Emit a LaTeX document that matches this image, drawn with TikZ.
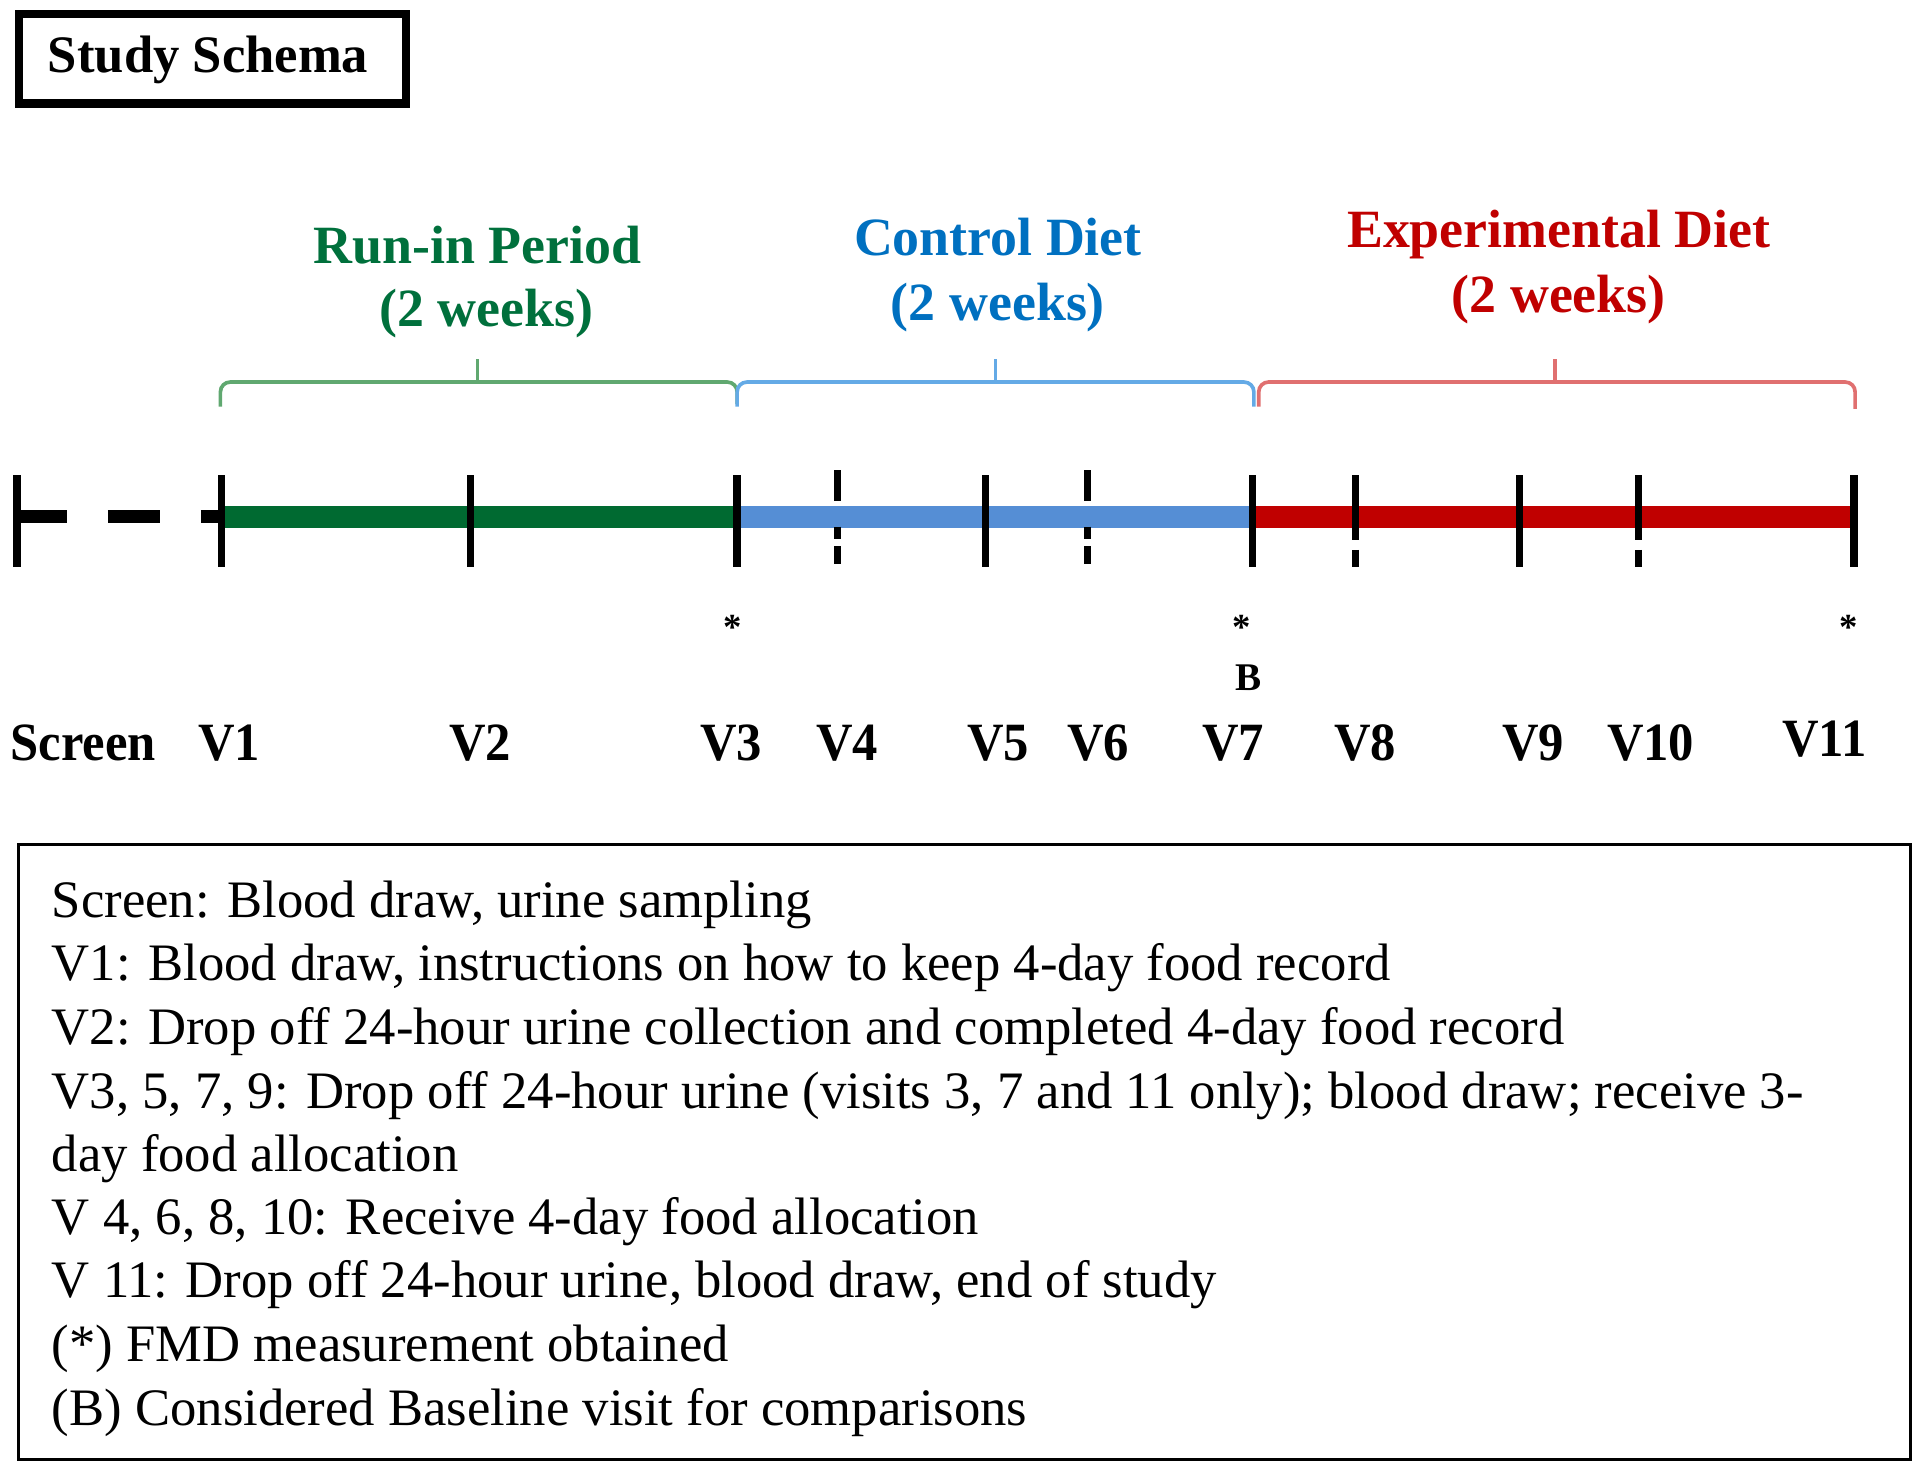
\documentclass[tikz,border=0pt]{standalone}
\usepackage{fontspec}
\setmainfont{Liberation Serif}
\newfontfamily\visitfont{Liberation Serif}[FakeStretch=0.94]
\definecolor{gtext}{RGB}{0,112,60}
\definecolor{btext}{RGB}{0,112,192}
\definecolor{rtext}{RGB}{192,0,0}
\definecolor{gbar}{RGB}{0,106,49}
\definecolor{bbar}{RGB}{85,142,213}
\definecolor{rbar}{RGB}{192,0,0}
\definecolor{gbrace}{RGB}{96,168,112}
\definecolor{bbrace}{RGB}{100,170,230}
\definecolor{rbrace}{RGB}{224,112,112}
\tikzset{
  period/.style={font=\fontsize{22}{26}\selectfont\bfseries, anchor=base, inner sep=0pt},
  visit/.style={font=\fontsize{22}{26}\selectfont\visitfont\bfseries, anchor=base, inner sep=0pt},
  legendline/.style={font=\fontsize{21.5}{26}\selectfont, anchor=base west, inner sep=0pt},
  tickline/.style={line width=3pt, black},
  barline/.style={line width=9pt},
  braceline/.style={line width=1.5pt, rounded corners=4pt},
  smallmark/.style={font=\fontsize{15}{18}\selectfont\bfseries, inner sep=0pt}
}
\begin{document}
\begin{tikzpicture}[x=0.5pt,y=-0.5pt]
\useasboundingbox (0,0) rectangle (1568,1199);
% title
\draw[line width=3.5pt] (15.5,11.5) rectangle (331.5,84.5);
\node[font=\fontsize{21.5}{26}\selectfont\bfseries, anchor=base, inner sep=0pt] (title) at (170,59) {Study Schema};
% period labels
\node[period, text=gtext] (runin) at (390,215) {Run-in Period};
\node[period, text=gtext] (runinw) at (397,267) {(2 weeks)};
\node[period, text=btext] (ctrl) at (815,209) {Control Diet};
\node[period, text=btext] (ctrlw) at (815,262) {(2 weeks)};
\node[period, text=rtext] (expt) at (1273,202) {Experimental Diet};
\node[period, text=rtext] (exptw) at (1273,255) {(2 weeks)};
% braces
\draw[braceline, gbrace] (180,332) -- (180,312) -- (602,312) -- (602,330);
\draw[line width=1.5pt, gbrace] (390,312) -- (390,293);
\draw[braceline, bbrace] (602,332) -- (602,312) -- (1024,312) -- (1024,332);
\draw[line width=1.5pt, bbrace] (813,312) -- (813,293);
\draw[braceline, rbrace] (1028,332) -- (1028,312) -- (1515,312) -- (1515,334);
\draw[line width=1.5pt, rbrace] (1270,312) -- (1270,293);
% timeline coordinates
\coordinate (tS) at (14,422);
\coordinate (t1) at (181,422);
\coordinate (t2) at (384,422);
\coordinate (t3) at (602,422);
\coordinate (t4) at (684,422);
\coordinate (t5) at (805,422);
\coordinate (t6) at (888,422);
\coordinate (t7) at (1023,422);
\coordinate (t8) at (1107,422);
\coordinate (t9) at (1241,422);
\coordinate (t10) at (1338,422);
\coordinate (t11) at (1514,422);
% bars
\draw[barline, gbar] (t1) -- (t3);
\draw[barline, bbar] (t3) -- (t7);
\draw[barline, rbar] (t7) -- (1512,422);
% screen dashes
\draw[line width=5.5pt] (14,422) -- (55,422);
\draw[line width=5.5pt] (88,422) -- (131,422);
\draw[line width=5.5pt] (164,422) -- (182,422);
% solid ticks
\foreach \t in {tS,t1,t2,t3,t5,t7,t9,t11}{
  \draw[tickline] ([yshift=17pt]\t) -- ([yshift=-20.5pt]\t);
}
% dashed ticks (control period)
\foreach \t in {t4,t6}{
  \draw[tickline] ([yshift=19pt]\t) -- ([yshift=6.5pt]\t);
  \draw[tickline] ([yshift=-4pt]\t) -- ([yshift=-9pt]\t);
  \draw[tickline] ([yshift=-12pt]\t) -- ([yshift=-19.5pt]\t);
}
% dashed ticks (experimental period)
\foreach \t in {t8,t10}{
  \draw[tickline] ([yshift=17pt]\t) -- ([yshift=-9.5pt]\t);
  \draw[tickline] ([yshift=-13.5pt]\t) -- ([yshift=-20.5pt]\t);
}
% FMD marks and baseline
\node[smallmark, anchor=north] (a3) at (598,502) {*};
\node[smallmark, anchor=north] (a7) at (1014,502) {*};
\node[smallmark, anchor=north] (a11) at (1510,502) {*};
\node[font=\fontsize{16}{18}\selectfont\bfseries, anchor=base, inner sep=0pt] (base) at (1020,564) {B};
% visit labels
\node[visit] (lS) at (68,621) {Screen};
\node[visit] (l1) at (187,621) {V1};
\node[visit] (l2) at (392,621) {V2};
\node[visit] (l3) at (597,621) {V3};
\node[visit] (l4) at (692,621) {V4};
\node[visit] (l5) at (815,621) {V5};
\node[visit] (l6) at (897,621) {V6};
\node[visit] (l7) at (1007,621) {V7};
\node[visit] (l8) at (1115,621) {V8};
\node[visit] (l9) at (1252,621) {V9};
\node[visit] (l10) at (1348,621) {V10};
\node[visit] (l11) at (1490,618) {V11};
% legend box
\draw[line width=1.25pt] (15,690) rectangle (1560,1192);
\node[legendline] (g1) at (42,749) {Screen: Blood draw, urine sampling};
\node[legendline] (g2) at (42,801) {V1: Blood draw, instructions on how to keep 4-day food record};
\node[legendline] (g3) at (42,853) {V2: Drop off 24-hour urine collection and completed 4-day food record};
\node[legendline] (g4) at (42,905) {V3, 5, 7, 9: Drop off 24-hour urine (visits 3, 7 and 11 only); blood draw; receive 3-};
\node[legendline] (g5) at (42,957) {day food allocation};
\node[legendline] (g6) at (42,1008) {V 4, 6, 8, 10: Receive 4-day food allocation};
\node[legendline] (g7) at (42,1060) {V 11: Drop off 24-hour urine, blood draw, end of study};
\node[legendline] (g8) at (42,1112) {(*) FMD measurement obtained};
\node[legendline] (g9) at (42,1164) {(B) Considered Baseline visit for comparisons};
\end{tikzpicture}
\end{document}
